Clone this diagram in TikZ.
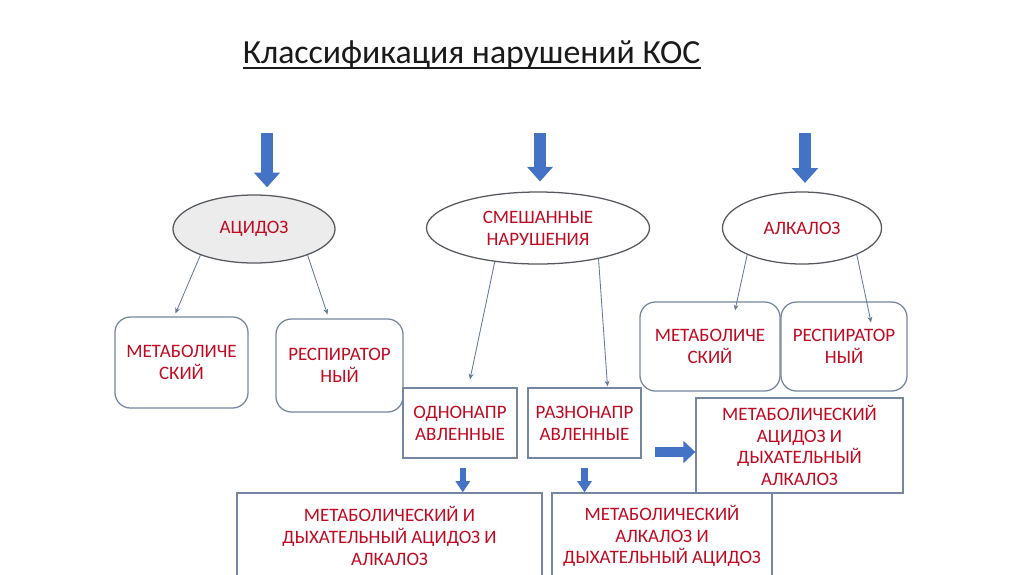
\documentclass[tikz,border=0pt]{standalone}
\usepackage{fontspec}
\setmainfont{Carlito}
\usetikzlibrary{arrows.meta,calc,shapes.geometric}
\definecolor{ink}{HTML}{1A1A1A}
\definecolor{redtext}{HTML}{C00A22}
\definecolor{frame}{HTML}{7586A0}
\definecolor{rim}{HTML}{55595E}
\definecolor{arrowblue}{HTML}{4472C4}
\definecolor{linkblue}{HTML}{6279A0}
\definecolor{softgray}{HTML}{ECECEC}
\tikzset{x=0.025cm,y=-0.025cm,
  every node/.style={font=\fontsize{13.5}{15.5}\selectfont,text=redtext,align=center},
  oval/.style={ellipse,draw=rim,line width=.9pt,inner sep=0pt},
  rbox/.style={rectangle,rounded corners=11pt,draw=frame,line width=.9pt,inner sep=0pt},
  sbox/.style={rectangle,draw=frame,line width=.9pt,inner sep=0pt},
  link/.style={-{Stealth[length=4pt,width=3.5pt]},draw=linkblue,line width=.6pt},
  bigarrow/.style={-{Triangle[width=18pt,length=10.5pt]},draw=arrowblue,line width=8.5pt},
  midarrow/.style={-{Triangle[width=15.5pt,length=8.5pt]},draw=arrowblue,line width=7pt},
  smallarrow/.style={-{Triangle[width=10pt,length=8pt]},draw=arrowblue,line width=4.3pt}}

\begin{document}
\begin{tikzpicture}
\clip (0,0) rectangle (1024,574);
\fill[white] (0,0) rectangle (1024,574);
% title
\node[anchor=base,inner sep=0pt,text=ink,font=\fontsize{24}{27}\selectfont] (title) at (471.5,63) {Классификация нарушений КОС};
\draw[ink,line width=1.3pt] ([yshift=-3.6pt]title.base west) -- ([yshift=-3.6pt]title.base east);
% top level
\node[oval,fill=softgray,minimum width=4.05cm,minimum height=1.7cm] (acid) at (254,229) {АЦИДОЗ};
\node[oval,minimum width=5.575cm,minimum height=1.8cm] (mix) at (538,228) {СМЕШАННЫЕ\\НАРУШЕНИЯ};
\node[oval,minimum width=3.975cm,minimum height=1.8cm] (alk) at (802,228) {АЛКАЛОЗ};
\coordinate (inA) at (267,133);
\coordinate (inM) at (540,133);
\coordinate (inK) at (805,133);
\draw[bigarrow,shorten >=5pt] (inA) -- (inA |- acid.north);
\draw[bigarrow,shorten >=7pt] (inM) -- (inM |- mix.north);
\draw[bigarrow,shorten >=6pt] (inK) -- (inK |- alk.north);
% second level
\node[rbox,minimum width=3.325cm,minimum height=2.275cm] (metL) at (181.5,362.5) {МЕТАБОЛИЧЕ\\СКИЙ};
\node[rbox,minimum width=3.175cm,minimum height=2.325cm] (respL) at (339.5,365.5) {РЕСПИРАТОР\\НЫЙ};
\node[sbox,minimum width=2.85cm,minimum height=1.75cm] (odno) at (460,423) {ОДНОНАПР\\АВЛЕННЫЕ};
\node[sbox,minimum width=2.825cm,minimum height=1.75cm] (razn) at (584.5,423) {РАЗНОНАПР\\АВЛЕННЫЕ};
\node[rbox,minimum width=3.5cm,minimum height=2.225cm] (metR) at (710,346.5) {МЕТАБОЛИЧЕ\\СКИЙ};
\node[rbox,minimum width=3.15cm,minimum height=2.225cm] (respR) at (844,346.5) {РЕСПИРАТОР\\НЫЙ};
\node[sbox,minimum width=5.175cm,minimum height=2.375cm] (mab) at (799.5,445.5) {МЕТАБОЛИЧЕСКИЙ\\АЦИДОЗ И\\ДЫХАТЕЛЬНЫЙ\\АЛКАЛОЗ};
\draw[link] (acid.206) -- ($(metL.north)+(-6,-3)$);
\draw[link] (acid.334) -- ($(respL.north)+(-12,-4)$);
\draw[link] (mix.218) -- ($(odno.north)+(10,-8)$);
\draw[link] (mix.333) -- ($(razn.north)+(23,-1)$);
\draw[link] (alk.206) -- ($(metR.north)+(25,9)$);
\draw[link] (alk.334) -- ($(respR.north)+(27,21)$);
% bottom level
\node[sbox,minimum width=7.625cm,minimum height=2.15cm] (botL) at (389.5,536) {МЕТАБОЛИЧЕСКИЙ И\\ДЫХАТЕЛЬНЫЙ АЦИДОЗ И\\АЛКАЛОЗ};
\node[sbox,minimum width=5.5cm,minimum height=2.15cm] (botM) at (662,536) {МЕТАБОЛИЧЕСКИЙ\\АЛКАЛОЗ И\\ДЫХАТЕЛЬНЫЙ АЦИДОЗ};
\draw[smallarrow,shorten <=7pt] ([xshift=2pt]odno.south) -- ([xshift=2pt]odno.south |- botL.north);
\draw[smallarrow,shorten <=7pt] (razn.south) -- (razn.south |- botM.north);
\coordinate (side) at (655,452);
\draw[midarrow] (side) -- (side -| mab.west);
\end{tikzpicture}
\end{document}
